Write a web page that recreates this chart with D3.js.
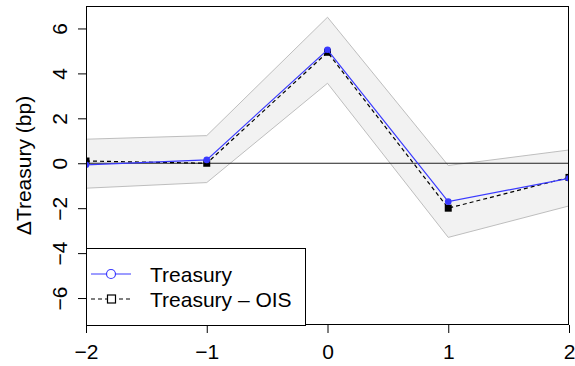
<!DOCTYPE html>
<html>
<head>
<meta charset="utf-8">
<script src="https://cdn.jsdelivr.net/npm/d3@7"></script>
<style>
  body { margin: 0; background: #fff; }
  svg text { font-family: "Liberation Sans", Arial, sans-serif; }
</style>
</head>
<body>
<div id="chart"></div>
<script>
// data
var offsets     = [-2, -1, 0, 1, 2];
var treasury    = [-0.07, 0.15, 5.05, -1.71, -0.67];
var treasuryOis = [0.10, 0.00, 4.94, -2.00, -0.63];
var bandUpper   = [1.07, 1.23, 6.50, -0.10, 0.59];
var bandLower   = [-1.11, -0.86, 3.56, -3.30, -1.90];
var yTicks      = [-6, -4, -2, 0, 2, 4, 6];
var legendLabels = ["Treasury", "Treasury \u2013 OIS"];

var width = 575, height = 366;
var plot = {left: 86, right: 569, top: 6, bottom: 325};
var fontSize = 21;

var svg = d3.select("#chart").append("svg")
    .attr("width", width)
    .attr("height", height);

var x = d3.scaleLinear().domain([-2, 2]).range([plot.left, plot.right]);
var y = d3.scaleLinear().domain([-7.2, 7.0]).range([plot.bottom, plot.top]);

svg.append("clipPath").attr("id", "clip")
  .append("rect")
    .attr("x", plot.left).attr("y", plot.top)
    .attr("width", plot.right - plot.left)
    .attr("height", plot.bottom - plot.top);

var g = svg.append("g").attr("clip-path", "url(#clip)");

// confidence band
var band = offsets.map(function(d, i){ return [x(d), y(bandUpper[i])]; })
  .concat(offsets.map(function(d, i){ return [x(d), y(bandLower[i])]; }).reverse());

g.append("path")
    .attr("d", "M" + band.join("L") + "Z")
    .attr("fill", "#f2f2f2")
    .attr("stroke", "#bebebe")
    .attr("stroke-width", 1);

// zero line
g.append("line")
    .attr("x1", plot.left).attr("x2", plot.right)
    .attr("y1", y(0)).attr("y2", y(0))
    .attr("stroke", "#222")
    .attr("stroke-width", 1);

var line = d3.line()
    .x(function(d, i){ return x(offsets[i]); })
    .y(function(d){ return y(d); });

// treasury - ois
g.append("path")
    .attr("d", line(treasuryOis))
    .attr("fill", "none")
    .attr("stroke", "#000")
    .attr("stroke-width", 1.2)
    .attr("stroke-dasharray", "4,3");

g.selectAll("rect.ois").data(treasuryOis).enter()
  .append("rect")
    .attr("class", "ois")
    .attr("x", function(d, i){ return x(offsets[i]) - 3.5; })
    .attr("y", function(d){ return y(d) - 3.5; })
    .attr("width", 7).attr("height", 7)
    .attr("fill", "#000");

// treasury
g.append("path")
    .attr("d", line(treasury))
    .attr("fill", "none")
    .attr("stroke", "#3a3aff")
    .attr("stroke-width", 1.2);

g.selectAll("circle.tsy").data(treasury).enter()
  .append("circle")
    .attr("class", "tsy")
    .attr("cx", function(d, i){ return x(offsets[i]); })
    .attr("cy", function(d){ return y(d); })
    .attr("r", 3.3)
    .attr("fill", "#3a3aff");

// axes
var xAxis = svg.append("g")
    .attr("transform", "translate(0," + plot.bottom + ")")
    .call(d3.axisBottom(x).tickValues(offsets).tickSize(8).tickPadding(11)
      .tickFormat(function(d){ return d < 0 ? "\u2212" + Math.abs(d) : d; }));

var yAxis = svg.append("g")
    .attr("transform", "translate(" + plot.left + ",0)")
    .call(d3.axisLeft(y).tickValues(yTicks).tickSize(8)
      .tickFormat(function(d){ return d < 0 ? "\u2212" + Math.abs(d) : d; }));

yAxis.selectAll(".tick text")
    .attr("transform", "rotate(-90)")
    .attr("x", 0).attr("y", -19).attr("dy", 0)
    .attr("text-anchor", "middle");

[xAxis, yAxis].forEach(function(a){
  a.select(".domain").remove();
  a.selectAll(".tick line").attr("stroke", "#000");
  a.selectAll(".tick text").attr("font-size", fontSize).attr("fill", "#000")
    .attr("font-family", "Liberation Sans, Arial, sans-serif");
});

// frame
svg.append("rect")
    .attr("x", plot.left + 0.5).attr("y", plot.top + 0.5)
    .attr("width", plot.right - plot.left - 1)
    .attr("height", plot.bottom - plot.top - 1)
    .attr("fill", "none")
    .attr("stroke", "#000");

// y title
svg.append("text")
    .attr("transform", "translate(31," + ((plot.top + plot.bottom) / 2) + ") rotate(-90)")
    .attr("text-anchor", "middle")
    .attr("font-size", fontSize)
    .text("\u0394Treasury (bp)");

// legend
var legend = svg.append("g");
legend.append("rect")
    .attr("x", plot.left + 0.5).attr("y", 248.5)
    .attr("width", 305 - plot.left).attr("height", plot.bottom - 248)
    .attr("fill", "#fff")
    .attr("stroke", "#000");

var legendY = [274, 299];

legend.append("line")
    .attr("x1", 91).attr("x2", 131)
    .attr("y1", legendY[0]).attr("y2", legendY[0])
    .attr("stroke", "#3a3aff").attr("stroke-width", 1.2);
legend.append("circle")
    .attr("cx", 111).attr("cy", legendY[0]).attr("r", 4.5)
    .attr("fill", "#fff").attr("stroke", "#3a3aff").attr("stroke-width", 1.2);

legend.append("line")
    .attr("x1", 91).attr("x2", 131)
    .attr("y1", legendY[1]).attr("y2", legendY[1])
    .attr("stroke", "#000").attr("stroke-width", 1.2)
    .attr("stroke-dasharray", "4,3");
legend.append("rect")
    .attr("x", 107.5).attr("y", legendY[1] - 4).attr("width", 8).attr("height", 8)
    .attr("fill", "#fff").attr("stroke", "#000").attr("stroke-width", 1.2);

legend.selectAll("text.lab").data(legendLabels).enter()
  .append("text")
    .attr("class", "lab")
    .attr("x", 150)
    .attr("y", function(d, i){ return legendY[i]; })
    .attr("dy", "0.36em")
    .attr("font-size", fontSize)
    .text(function(d){ return d; });
</script>
</body>
</html>
